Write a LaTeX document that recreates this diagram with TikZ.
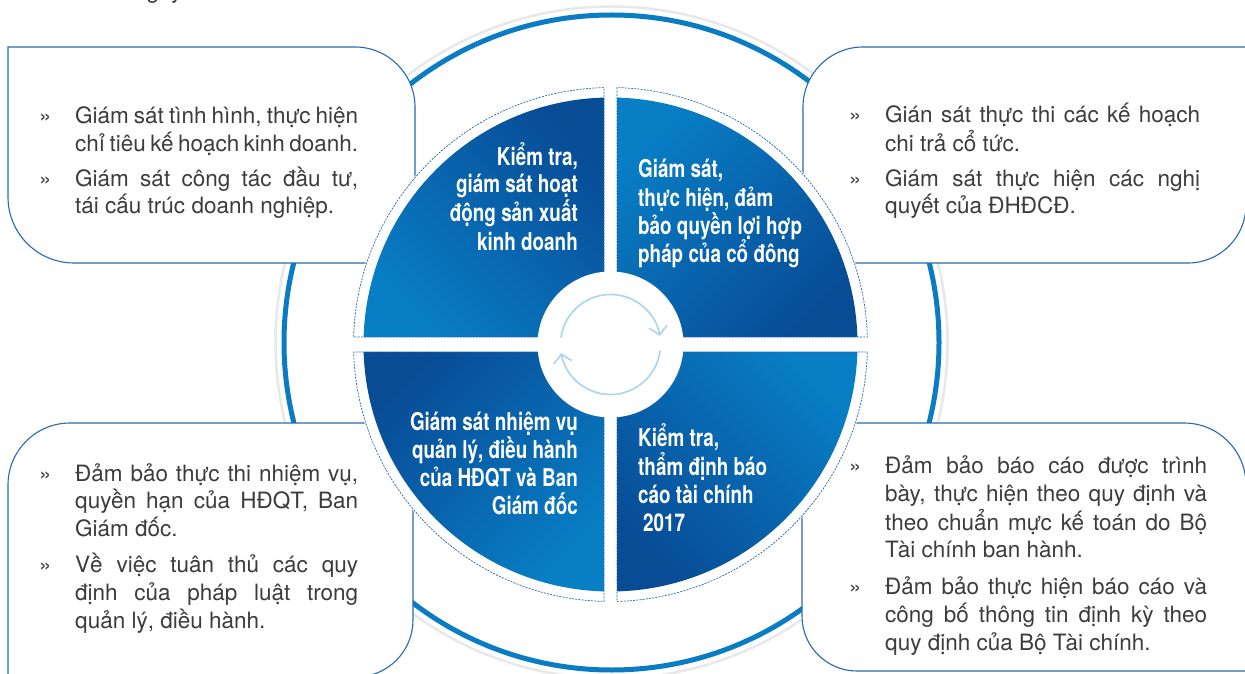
\documentclass[tikz,border=0pt]{standalone}
\usepackage{fontspec}
\setmainfont{TeX Gyre Heros}
\newfontfamily\qfont{TeX Gyre Heros}[FakeStretch=0.77]
\usetikzlibrary{arrows.meta,calc}
\definecolor{boxline}{RGB}{40,105,175}
\definecolor{ringblue}{RGB}{10,124,196}
\definecolor{ringgray}{RGB}{232,232,232}
\definecolor{qdark}{RGB}{8,76,150}
\definecolor{qlight}{RGB}{8,126,197}
\definecolor{dashblue}{RGB}{35,100,175}
\definecolor{cycblue}{RGB}{170,213,240}
\definecolor{bodytext}{RGB}{60,60,60}
\newcommand\jla[1]{\makebox[283pt][s]{#1}}
\newcommand\jlb[1]{\makebox[315pt][s]{#1}}
\newcommand\jlc[1]{\makebox[322pt][s]{#1}}
\begin{document}
\begin{tikzpicture}[x=1pt,y=1pt,
  infobox/.style={draw=boxline, line width=1.1pt, fill=white},
  quadline/.style={draw=dashblue, line width=0.7pt, dash pattern=on 2pt off 1.2pt},
  body/.style={anchor=base west, inner sep=0pt, text=bodytext, font=\fontsize{22.5}{29}\selectfont},
  bul/.style={anchor=base west, inner sep=0pt, text=bodytext, font=\fontsize{22}{26}\selectfont},
  qleft/.style={anchor=base east, inner sep=0pt, text=white, font=\qfont\bfseries\fontsize{24.5}{28}\selectfont},
  qright/.style={anchor=base west, inner sep=0pt, text=white, font=\qfont\bfseries\fontsize{24.5}{28}\selectfont},
  cycarrow/.style={draw=cycblue, line width=1.6pt, -{Straight Barb[length=8pt,width=18pt]}}
]
\useasboundingbox (0,0) rectangle (1245,673);
\fill[white] (0,0) rectangle (1245,673);
\coordinate (Q) at (610.5,328.5);
\coordinate (R) at (611.5,330.5);

% outer rings
\draw[ringgray, line width=2.5pt] (R) circle[radius=336];
\draw[ringblue, line width=5pt] (R) circle[radius=327.5];

% info boxes
\draw[infobox] (8,626) -- (355,626) arc[start angle=90, end angle=0, radius=60]
  -- (415,410) -- (74,410) arc[start angle=270, end angle=180, radius=66] -- cycle;
\draw[infobox] (803,566) arc[start angle=180, end angle=90, radius=60]
  -- (1246,626) -- (1246,468) arc[start angle=0, end angle=-90, radius=58] -- (803,410) -- cycle;
\draw[infobox] (8,188) arc[start angle=180, end angle=90, radius=62]
  -- (413,250) -- (413,53) arc[start angle=0, end angle=-90, radius=57] -- (8,-4) -- cycle;
\draw[infobox] (802,250) -- (1184,250) arc[start angle=90, end angle=0, radius=62]
  -- (1246,2) -- (857,2) arc[start angle=270, end angle=180, radius=55] -- cycle;

% white disk behind quadrants
\fill[white] (Q) circle[radius=258];

% quadrant fills
\shade[top color=qdark, bottom color=qlight, shading angle=-45]
  ($(Q)+(-6.5,7.5)$) -- ([shift={(Q)}]91.508:247) arc[start angle=91.508, end angle=178.26, radius=247] -- cycle;
\shade[top color=qlight, bottom color=qdark, shading angle=45]
  ($(Q)+(6.5,7.5)$) -- ([shift={(Q)}]1.74:247) arc[start angle=1.74, end angle=88.492, radius=247] -- cycle;
\shade[top color=qdark, bottom color=qlight, shading angle=45]
  ($(Q)+(-6.5,-7.5)$) -- ([shift={(Q)}]181.74:247) arc[start angle=181.74, end angle=268.492, radius=247] -- cycle;
\shade[top color=qlight, bottom color=qdark, shading angle=-45]
  ($(Q)+(6.5,-7.5)$) -- ([shift={(Q)}]271.508:247) arc[start angle=271.508, end angle=358.26, radius=247] -- cycle;

% dashed outlines
\draw[quadline] ($(Q)+(-6.5,7.5)$) -- ([shift={(Q)}]91.449:257) arc[start angle=91.449, end angle=178.328, radius=257] -- cycle;
\draw[quadline] ($(Q)+(6.5,7.5)$) -- ([shift={(Q)}]1.672:257) arc[start angle=1.672, end angle=88.551, radius=257] -- cycle;
\draw[quadline] ($(Q)+(-6.5,-7.5)$) -- ([shift={(Q)}]181.672:257) arc[start angle=181.672, end angle=268.551, radius=257] -- cycle;
\draw[quadline] ($(Q)+(6.5,-7.5)$) -- ([shift={(Q)}]271.449:257) arc[start angle=271.449, end angle=358.328, radius=257] -- cycle;

% centre
\fill[white] (Q) circle[radius=73];
\draw[cycarrow] ([shift={(Q)}]172:50) arc[start angle=172, end angle=10, radius=50];
\draw[cycarrow] ([shift={(Q)}]-7:50) arc[start angle=-7, end angle=-170, radius=50];

% quadrant texts
\node[qleft] (q1a) at (578,507) {Kiểm tra,};
\node[qleft] (q1b) at (578,480) {giám sát hoạt};
\node[qleft] (q1c) at (578,451.5) {động sản xuất};
\node[qleft] (q1d) at (578,422.5) {kinh doanh};
\node[qright] (q2a) at (638,495) {Giám sát,};
\node[qright] (q2b) at (638,466.5) {thực hiện, đảm};
\node[qright] (q2c) at (638,438) {bảo quyền lợi hợp};
\node[qright] (q2d) at (638,410.5) {pháp của cổ đông};
\node[qleft] (q3a) at (578,243) {Giám sát nhiệm vụ};
\node[qleft] (q3b) at (578,215) {quản lý, điều hành};
\node[qleft] (q3c) at (578,187) {của HĐQT và Ban};
\node[qleft] (q3d) at (578,159) {Giám đốc};
\node[qright] (q4a) at (638,226.5) {Kiểm tra,};
\node[qright] (q4b) at (638,198) {thẩm định báo};
\node[qright] (q4c) at (638,170) {cáo tài chính};
\node[qright] (q4d) at (643,141.5) {2017};

% fragment at top edge (cut off in the original as well)
\node[body] (frag) at (134,674.5) {ngày};

% top-left box text
\node[bul] (tl1) at (39,549.5) {»};
\node[body] (tla) at (75,549.5) {\jla{Giám sát tình hình, thực hiện}};
\node[body] (tlb) at (75,521) {\jla{chỉ tiêu kế hoạch kinh doanh.}};
\node[bul] (tl2) at (39,486) {»};
\node[body] (tlc) at (75,486) {\jla{Giám sát công tác đầu tư,}};
\node[body] (tld) at (75,459) {tái cấu trúc doanh nghiệp.};

% top-right box text
\node[bul] (tr1) at (849,550) {»};
\node[body] (tra) at (885,550) {\jlb{Gián sát thực thi các kế hoạch}};
\node[body] (trb) at (885,521) {chi trả cổ tức.};
\node[bul] (tr2) at (849,486) {»};
\node[body] (trc) at (885,486) {\jlb{Giám sát thực hiện các nghị}};
\node[body] (trd) at (885,459) {quyết của ĐHĐCĐ.};

% bottom-left box text
\node[bul] (bl1) at (39,192) {»};
\node[body] (bla) at (75,192) {\jla{Đảm bảo thực thi nhiệm vụ,}};
\node[body] (blb) at (75,164.5) {\jla{quyền hạn của HĐQT, Ban}};
\node[body] (blc) at (75,136.5) {Giám đốc.};
\node[bul] (bl2) at (39,101) {»};
\node[body] (bld) at (75,101) {\jla{Về việc tuân thủ các quy}};
\node[body] (ble) at (75,73) {\jla{định của pháp luật trong}};
\node[body] (blf) at (75,45) {quản lý, điều hành.};

% bottom-right box text
\node[bul] (br1) at (849,200) {»};
\node[body] (bra) at (885,200) {\jlc{Đảm bảo báo cáo được trình}};
\node[body] (brb) at (885,171.5) {\jlc{bày, thực hiện theo quy định và}};
\node[body] (brc) at (885,143) {\jlc{theo chuẩn mực kế toán do Bộ}};
\node[body] (brd) at (885,116) {Tài chính ban hành.};
\node[bul] (br2) at (849,79) {»};
\node[body] (bre) at (885,79) {\jlc{Đảm bảo thực hiện báo cáo và}};
\node[body] (brf) at (885,50.5) {\jlc{công bố thông tin định kỳ theo}};
\node[body] (brg) at (885,23) {quy định của Bộ Tài chính.};
\end{tikzpicture}
\end{document}
